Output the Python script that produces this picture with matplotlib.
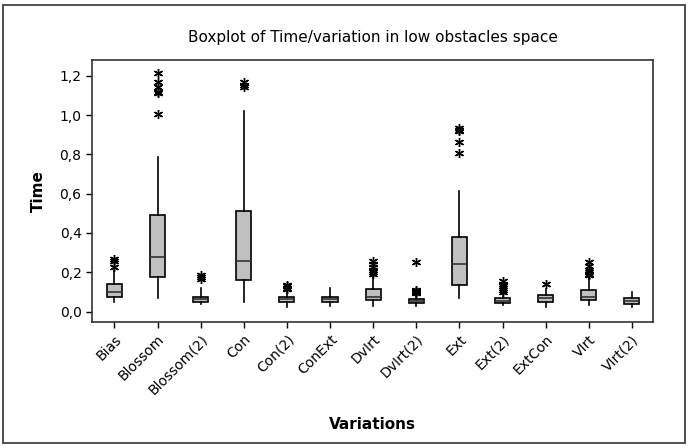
import matplotlib
matplotlib.use('Agg')
import matplotlib.pyplot as plt
from matplotlib.patches import Rectangle
from matplotlib.ticker import FuncFormatter

plt.rcParams['font.family'] = ['DejaVu Sans']

variations = ['Bias', 'Blossom', 'Blossom(2)', 'Con', 'Con(2)', 'ConExt', 'DvIrt',
              'DvIrt(2)', 'Ext', 'Ext(2)', 'ExtCon', 'VIrt', 'VIrt(2)']
q1 = [0.073, 0.178, 0.048, 0.161, 0.048, 0.048, 0.059, 0.043, 0.136, 0.043, 0.051, 0.059, 0.038]
medians = [0.099, 0.280, 0.063, 0.256, 0.063, 0.063, 0.076, 0.053, 0.244, 0.056, 0.068, 0.076, 0.053]
q3 = [0.139, 0.493, 0.076, 0.513, 0.076, 0.076, 0.114, 0.063, 0.378, 0.068, 0.085, 0.110, 0.068]
whislo = [0.048, 0.068, 0.038, 0.048, 0.025, 0.029, 0.029, 0.029, 0.068, 0.031, 0.025, 0.034, 0.025]
whishi = [0.210, 0.788, 0.119, 1.022, 0.110, 0.119, 0.178, 0.094, 0.615, 0.094, 0.114, 0.178, 0.102]
outliers = [
    [0.270, 0.255, 0.229],
    [1.212, 1.166, 1.141, 1.118, 1.110, 1.004],
    [0.185, 0.175, 0.165],
    [1.166, 1.155, 1.145],
    [0.135, 0.128, 0.120, 0.115],
    [],
    [0.258, 0.240, 0.225, 0.210, 0.200, 0.192],
    [0.251, 0.110, 0.105, 0.100, 0.095],
    [0.935, 0.925, 0.918, 0.864, 0.808],
    [0.155, 0.140, 0.130, 0.120, 0.110, 0.100],
    [0.141],
    [0.250, 0.230, 0.210, 0.200, 0.190, 0.185],
    [],
]

stats = []
for i, name in enumerate(variations):
    stats.append({'label': name, 'q1': q1[i], 'med': medians[i], 'q3': q3[i],
                  'whislo': whislo[i], 'whishi': whishi[i], 'fliers': outliers[i]})

fig = plt.figure(figsize=(6.89, 4.48), dpi=100)
ax = fig.add_axes([0.1335, 0.2813, 0.8143, 0.5847])

ax.bxp(stats, widths=0.35, patch_artist=True, showcaps=False,
       boxprops={'facecolor': '#c0c0c0', 'edgecolor': 'black', 'linewidth': 1.2},
       medianprops={'color': '#333333', 'linewidth': 1.2},
       whiskerprops={'color': 'black', 'linewidth': 1.2},
       flierprops={'marker': (6, 2, 0), 'markersize': 6.5, 'markeredgecolor': 'black',
                   'markeredgewidth': 1.0, 'linestyle': 'none'})

ax.set_xlim(0.48, 13.49)
ax.set_ylim(-0.053, 1.28)
ax.set_yticks([0.0, 0.2, 0.4, 0.6, 0.8, 1.0, 1.2])
ax.yaxis.set_major_formatter(FuncFormatter(lambda v, p: f'{v:.1f}'.replace('.', ',')))
ax.set_xticks(range(1, len(variations) + 1))
ax.set_xticklabels(variations, rotation=45, ha='right', rotation_mode='anchor')
ax.tick_params(axis='both', labelsize=10, length=4, width=1, direction='out')
for s in ax.spines.values():
    s.set_linewidth(1.2)
    s.set_color('#333333')

ax.set_title('Boxplot of Time/variation in low obstacles space', fontsize=11, pad=13)
ax.set_ylabel('Time', fontsize=11, fontweight='bold', labelpad=10)
ax.set_xlabel('Variations', fontsize=11, fontweight='bold', labelpad=14)

fig.patches.append(Rectangle((3 / 689, 5 / 448), 682 / 689, 438 / 448,
                             transform=fig.transFigure, fill=False,
                             edgecolor='#333333', linewidth=1.2))

fig.savefig('out.png', dpi=100)
